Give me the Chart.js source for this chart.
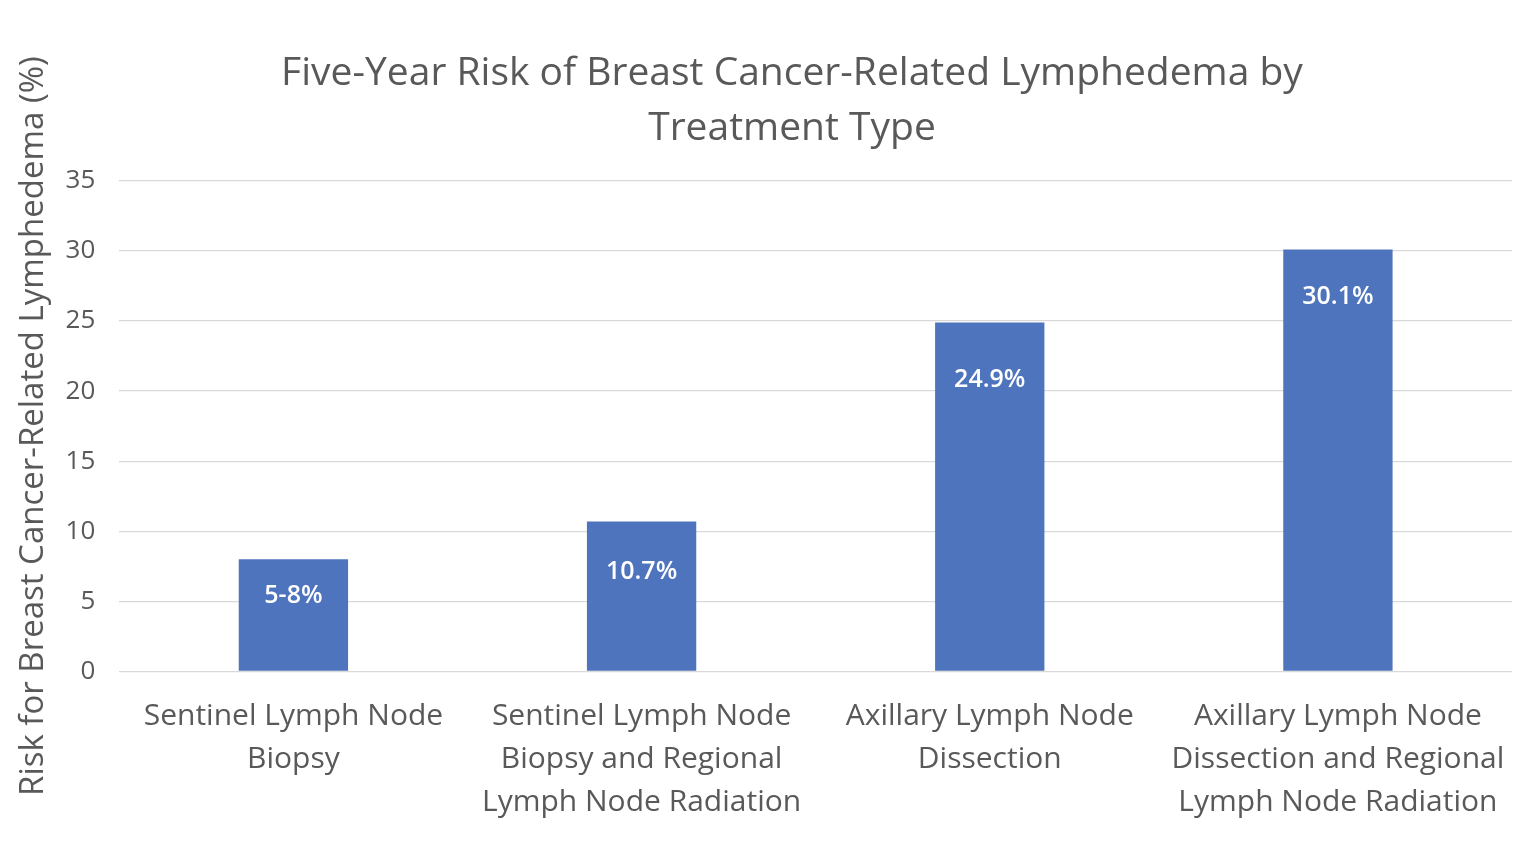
<!DOCTYPE html>
<html>
<head>
<meta charset="utf-8">
<script src="https://cdn.jsdelivr.net/npm/chart.js@4"></script>
<style>
  html, body { margin: 0; padding: 0; background: #fff; }
  #wrap { width: 1536px; height: 866px; }
</style>
</head>
<body>
<div id="wrap"><canvas id="lymphChart" width="1536" height="866"></canvas></div>
<script>
// Datos del gráfico
const categories = [
  ["Sentinel Lymph Node", "Biopsy"],
  ["Sentinel Lymph Node", "Biopsy and Regional", "Lymph Node Radiation"],
  ["Axillary Lymph Node", "Dissection"],
  ["Axillary Lymph Node", "Dissection and Regional", "Lymph Node Radiation"]
];
const riskValues = [8, 10.7, 24.9, 30.1];
const valueLabels = ["5-8%", "10.7%", "24.9%", "30.1%"];
const yTicks = [0, 5, 10, 15, 20, 25, 30, 35];

const FONT = "'Open Sans', 'Noto Sans', sans-serif";

// Plugin sencillo para las etiquetas de valor dentro de las barras
const barLabels = {
  id: "barLabels",
  afterDatasetsDraw(chart, args, opts) {
    const ctx = chart.ctx;
    const meta = chart.getDatasetMeta(0);
    ctx.save();
    ctx.fillStyle = "#ffffff";
    ctx.font = "600 25px " + FONT;
    ctx.textAlign = "center";
    ctx.textBaseline = "middle";
    meta.data.forEach((bar, i) => {
      ctx.fillText(valueLabels[i], bar.x, bar.y + opts.drop[i]);
    });
    ctx.restore();
  }
};

// Desplazar el título un poco a la derecha como en la imagen
const shiftTitle = {
  id: "shiftTitle",
  afterLayout(chart) {
    if (chart.titleBlock) chart.titleBlock.left = 72;
  }
};

new Chart(document.getElementById("lymphChart").getContext("2d"), {
  type: "bar",
  data: {
    labels: categories,
    datasets: [{
      data: riskValues,
      backgroundColor: "#4e74be",
      categoryPercentage: 1,
      barPercentage: 0.314
    }]
  },
  options: {
    responsive: false,
    animation: false,
    layout: { padding: { left: 14, right: 24, top: 46, bottom: 18 } },
    scales: {
      x: {
        grid: { display: false, drawTicks: false },
        border: { display: false },
        ticks: {
          color: "#595959",
          font: { family: FONT, size: 30, lineHeight: 1.43 },
          padding: 24,
          maxRotation: 0,
          autoSkip: false
        }
      },
      y: {
        min: 0,
        max: 35,
        afterBuildTicks(axis) {
          axis.ticks = yTicks.map(v => ({ value: v }));
        },
        grid: { color: "#d9d9d9", lineWidth: 1.3, drawTicks: false },
        border: { display: false },
        ticks: {
          color: "#595959",
          font: { family: FONT, size: 26 },
          padding: 24
        },
        title: {
          display: true,
          text: "Risk for Breast Cancer-Related Lymphedema (%)",
          color: "#595959",
          font: { family: FONT, size: 33 },
          padding: { top: 0, bottom: -12 }
        }
      }
    },
    plugins: {
      legend: { display: false },
      tooltip: { enabled: false },
      title: {
        display: true,
        text: ["Five-Year Risk of Breast Cancer-Related Lymphedema by", "Treatment Type"],
        color: "#595959",
        font: { family: FONT, size: 39, weight: "normal", lineHeight: 1.41 },
        padding: { top: 0, bottom: 25 }
      },
      barLabels: { drop: [37, 50, 57, 47] }
    }
  },
  plugins: [barLabels, shiftTitle]
});
</script>
</body>
</html>
